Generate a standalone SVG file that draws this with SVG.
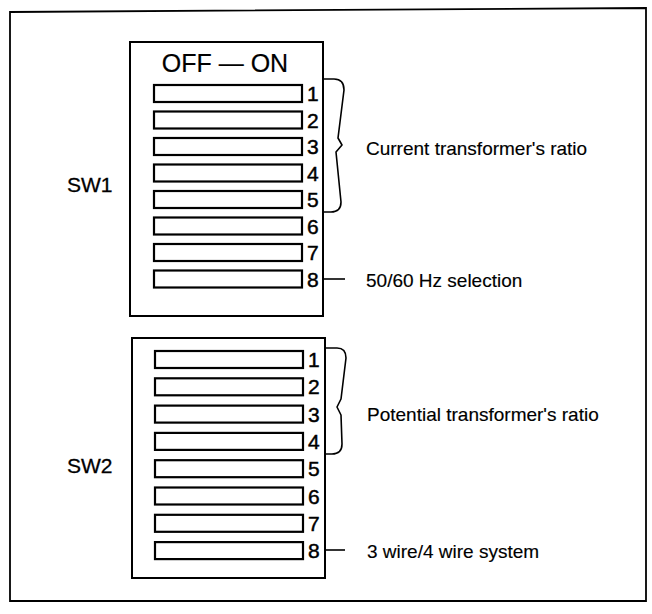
<svg xmlns="http://www.w3.org/2000/svg" width="652" height="614" viewBox="0 0 652 614">
<style>
.frame{fill:none;stroke:#000;stroke-width:1.8}
.box{fill:#fff;stroke:#000;stroke-width:2}
.sw{fill:#fff;stroke:#000;stroke-width:2.2}
.num{font-family:"Liberation Sans",Arial,sans-serif;font-size:21px;fill:#000;stroke:#000;stroke-width:0.45}
.lbl{font-family:"Liberation Sans",Arial,sans-serif;font-size:19px;fill:#000;stroke:#000;stroke-width:0.15}
.big{font-family:"Liberation Sans",Arial,sans-serif;font-size:25px;fill:#000;stroke:#000;stroke-width:0.2}
.br{fill:none;stroke:#000;stroke-width:1.6;stroke-linejoin:round}
</style>
<rect width="652" height="614" fill="#fff"/>
<path class="frame" d="M10 12 L646 8 L646 601 L10 601 Z"/>

<g id="sw1">
<rect class="box" x="130" y="42" width="193" height="274"/>
<text class="big" x="225" y="72" text-anchor="middle">OFF — ON</text>
<rect class="sw" x="154" y="85" width="148" height="17"/>
<rect class="sw" x="154" y="111.5" width="148" height="17"/>
<rect class="sw" x="154" y="138" width="148" height="17"/>
<rect class="sw" x="154" y="164.5" width="148" height="17"/>
<rect class="sw" x="154" y="191" width="148" height="17"/>
<rect class="sw" x="154" y="217.5" width="148" height="17"/>
<rect class="sw" x="154" y="244" width="148" height="17"/>
<rect class="sw" x="154" y="270.5" width="148" height="17"/>
<text class="num" x="307" y="101">1</text>
<text class="num" x="307" y="127.5">2</text>
<text class="num" x="307" y="154">3</text>
<text class="num" x="307" y="180.5">4</text>
<text class="num" x="307" y="207">5</text>
<text class="num" x="307" y="233.5">6</text>
<text class="num" x="307" y="260">7</text>
<text class="num" x="307" y="286.5">8</text>
</g>
<text id="sw1-label" class="num" x="67" y="192" style="stroke-width:0.3">SW1</text>

<g id="sw2">
<rect class="box" x="132" y="338" width="193" height="240"/>
<rect class="sw" x="155" y="351" width="148" height="17"/>
<rect class="sw" x="155" y="378.3" width="148" height="17"/>
<rect class="sw" x="155" y="405.6" width="148" height="17"/>
<rect class="sw" x="155" y="432.9" width="148" height="17"/>
<rect class="sw" x="155" y="460.2" width="148" height="17"/>
<rect class="sw" x="155" y="487.5" width="148" height="17"/>
<rect class="sw" x="155" y="514.8" width="148" height="17"/>
<rect class="sw" x="155" y="542.1" width="148" height="17"/>
<text class="num" x="308" y="367">1</text>
<text class="num" x="308" y="394.3">2</text>
<text class="num" x="308" y="421.6">3</text>
<text class="num" x="308" y="448.9">4</text>
<text class="num" x="308" y="476.2">5</text>
<text class="num" x="308" y="503.5">6</text>
<text class="num" x="308" y="530.8">7</text>
<text class="num" x="308" y="558.1">8</text>
</g>
<text id="sw2-label" class="num" x="67" y="473" style="stroke-width:0.3">SW2</text>

<g id="connectors">
<path class="br" d="M323 79 H334 Q344 79 344 90 L338 138 L342 145 L336 152 L341 202 Q341 212 331 212 H323"/>
<path class="br" d="M325 348 H337 Q346 348 346 358 L341 399 L337 407 L341 415 L342 444 Q342 454 332 454 H325"/>
<path class="br" d="M323 279 H345"/>
<path class="br" d="M325 550 H345"/>
</g>

<g id="notes">
<text class="lbl" x="366" y="155">Current transformer's ratio</text>
<text class="lbl" x="366" y="287">50/60 Hz selection</text>
<text class="lbl" x="367" y="421">Potential transformer's ratio</text>
<text class="lbl" x="367" y="558">3 wire/4 wire system</text>
</g>
</svg>
